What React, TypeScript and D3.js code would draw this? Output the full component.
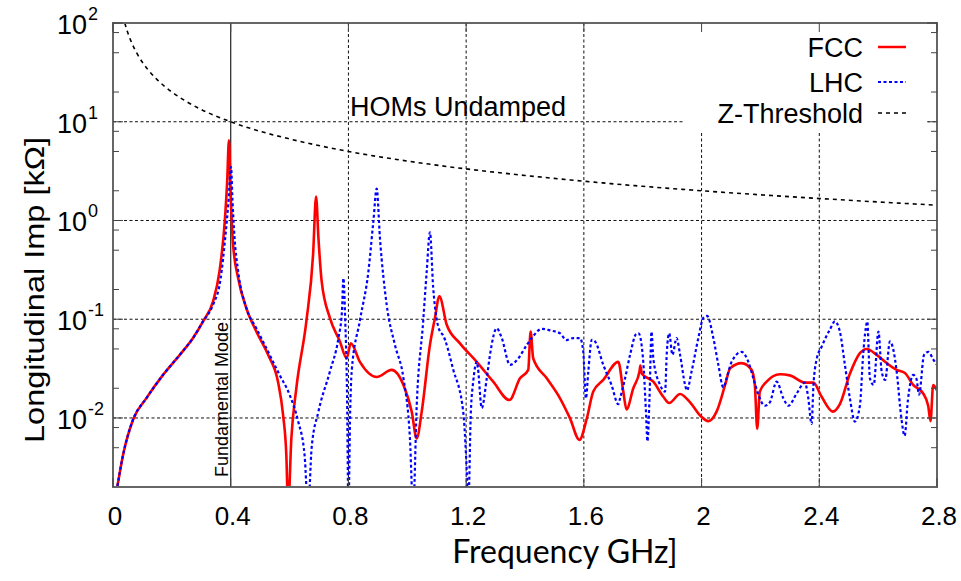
import React from 'react';
import * as d3 from 'd3';

// [frequency GHz, impedance kOhm]
const fccData: [number, number][] = [
  [0.012, 0.0018], [0.034, 0.0042], [0.068, 0.0096], [0.113, 0.0158], [0.17, 0.0273],
  [0.227, 0.0436], [0.272, 0.0645], [0.306, 0.095], [0.34, 0.152], [0.362, 0.307],
  [0.38, 1.0], [0.388, 2.5], [0.394, 6.5], [0.399, 2.16], [0.408, 0.575], [0.425, 0.263],
  [0.453, 0.13], [0.487, 0.075], [0.527, 0.0436], [0.561, 0.023], [0.578, 0.0107],
  [0.589, 0.0042], [0.595, 0.0012], [0.606, 0.0062], [0.623, 0.02], [0.657, 0.095],
  [0.68, 0.457], [0.69, 1.75], [0.698, 0.67], [0.709, 0.243], [0.737, 0.103],
  [0.771, 0.0596], [0.794, 0.0403], [0.808, 0.057], [0.839, 0.037], [0.896, 0.026],
  [0.947, 0.0307], [0.987, 0.0216], [1.015, 0.0116], [1.032, 0.0062], [1.049, 0.0116],
  [1.077, 0.055], [1.094, 0.103], [1.109, 0.171], [1.134, 0.088], [1.179, 0.057],
  [1.236, 0.037], [1.292, 0.0233], [1.347, 0.0152], [1.383, 0.0252], [1.411, 0.0307],
  [1.419, 0.075], [1.428, 0.04], [1.474, 0.0252], [1.519, 0.0158], [1.553, 0.0099],
  [1.585, 0.006], [1.61, 0.0099], [1.632, 0.0185], [1.666, 0.0243], [1.717, 0.037],
  [1.734, 0.0185], [1.745, 0.0122], [1.768, 0.02], [1.789, 0.0295], [1.792, 0.034],
  [1.797, 0.028], [1.836, 0.0233], [1.87, 0.0164], [1.89, 0.0142], [1.927, 0.0175],
  [1.961, 0.0144], [1.995, 0.0106], [2.023, 0.0093], [2.051, 0.0116], [2.08, 0.0216],
  [2.097, 0.0318], [2.136, 0.0359], [2.17, 0.0307], [2.181, 0.0216], [2.189, 0.0078],
  [2.198, 0.0185], [2.221, 0.0233], [2.266, 0.0277], [2.3, 0.027], [2.351, 0.0228],
  [2.38, 0.0228], [2.408, 0.0164], [2.446, 0.0116], [2.47, 0.0138], [2.504, 0.028],
  [2.538, 0.0453], [2.561, 0.05], [2.595, 0.0436], [2.629, 0.036], [2.663, 0.0307],
  [2.691, 0.0285], [2.719, 0.0216], [2.753, 0.0177], [2.77, 0.0133], [2.778, 0.0093],
  [2.787, 0.0216], [2.8, 0.019],
];

const lhcData: [number, number][] = [
  [0.012, 0.0018], [0.034, 0.0042], [0.068, 0.0096], [0.113, 0.0158], [0.17, 0.0273],
  [0.227, 0.0436], [0.272, 0.0645], [0.306, 0.095], [0.34, 0.14], [0.365, 0.25],
  [0.382, 0.7], [0.392, 1.5], [0.401, 3.5], [0.406, 1.6], [0.413, 0.67], [0.425, 0.31],
  [0.453, 0.13], [0.487, 0.081], [0.521, 0.051], [0.566, 0.0273], [0.6, 0.0172],
  [0.629, 0.0093], [0.651, 0.0042], [0.663, 0.0012], [0.675, 0.005], [0.698, 0.0116],
  [0.737, 0.0295], [0.766, 0.0645], [0.778, 0.12], [0.783, 0.26], [0.789, 0.1],
  [0.795, 0.02], [0.8, 0.0012], [0.806, 0.012], [0.811, 0.0295], [0.839, 0.097],
  [0.868, 0.307], [0.885, 1.0], [0.896, 2.1], [0.907, 0.67], [0.93, 0.14], [0.958, 0.055],
  [0.987, 0.0252], [1.009, 0.0062], [1.02, 0.0012], [1.032, 0.0133], [1.054, 0.095],
  [1.066, 0.307], [1.077, 0.76], [1.088, 0.209], [1.111, 0.075], [1.12, 0.07],
  [1.156, 0.031], [1.19, 0.0116], [1.202, 0.0029], [1.207, 0.0012], [1.216, 0.0116],
  [1.224, 0.0233], [1.236, 0.037], [1.24, 0.032], [1.253, 0.0126], [1.27, 0.0252],
  [1.281, 0.0436], [1.304, 0.081], [1.321, 0.0645], [1.349, 0.0345], [1.377, 0.04],
  [1.406, 0.055], [1.423, 0.0645], [1.457, 0.08], [1.485, 0.077], [1.519, 0.072],
  [1.541, 0.0615], [1.564, 0.0645], [1.587, 0.0645], [1.598, 0.0467], [1.607, 0.0158],
  [1.615, 0.0295], [1.627, 0.062], [1.638, 0.0596], [1.666, 0.0345], [1.694, 0.0216],
  [1.717, 0.0138], [1.723, 0.0158], [1.74, 0.0252], [1.757, 0.0436], [1.779, 0.0716],
  [1.786, 0.072], [1.801, 0.04], [1.811, 0.0116], [1.816, 0.0058], [1.823, 0.0158],
  [1.83, 0.075], [1.836, 0.04], [1.859, 0.0216], [1.876, 0.0185], [1.882, 0.0467],
  [1.89, 0.072], [1.901, 0.0436], [1.915, 0.0645], [1.927, 0.0436], [1.944, 0.0216],
  [1.95, 0.019], [1.966, 0.0295], [1.989, 0.0645], [2.006, 0.103], [2.019, 0.108],
  [2.04, 0.0645], [2.057, 0.0345], [2.074, 0.0204], [2.085, 0.0252], [2.102, 0.037],
  [2.136, 0.0467], [2.159, 0.037], [2.176, 0.0252], [2.193, 0.0172], [2.215, 0.0133],
  [2.232, 0.0144], [2.255, 0.0233], [2.278, 0.0158], [2.295, 0.0133], [2.323, 0.0177],
  [2.351, 0.0228], [2.362, 0.0164], [2.374, 0.0087], [2.38, 0.021], [2.391, 0.0393],
  [2.408, 0.0527], [2.436, 0.0785], [2.453, 0.095], [2.47, 0.075], [2.487, 0.0345],
  [2.504, 0.0158], [2.521, 0.0092], [2.538, 0.0133], [2.549, 0.0436], [2.558, 0.081],
  [2.563, 0.095], [2.572, 0.0252], [2.585, 0.0216], [2.601, 0.075], [2.612, 0.0295],
  [2.624, 0.0243], [2.64, 0.0596], [2.651, 0.05], [2.663, 0.0295], [2.679, 0.0099],
  [2.69, 0.0066], [2.701, 0.015], [2.719, 0.0273], [2.73, 0.025], [2.739, 0.0172],
  [2.756, 0.0436], [2.771, 0.0467], [2.787, 0.0393], [2.8, 0.0345],
];

const thresholdData: [number, number][] = [
  [0.04, 100], [0.05, 80], [0.06, 66.7], [0.08, 50], [0.1, 40], [0.12, 33.3], [0.15, 26.7],
  [0.2, 20], [0.25, 16], [0.3, 13.3], [0.4, 10], [0.5, 8], [0.6, 6.7], [0.8, 5], [1.0, 4],
  [1.2, 3.33], [1.4, 2.86], [1.6, 2.5], [1.8, 2.22], [2.0, 2.0], [2.2, 1.82], [2.4, 1.67],
  [2.6, 1.54], [2.8, 1.43],
];

const xTicks = [0, 0.4, 0.8, 1.2, 1.6, 2, 2.4, 2.8];
const yTicks = [0.01, 0.1, 1, 10, 100];
const yTickExp = ['-2', '-1', '0', '1', '2'];
const yMinor = [2, 5, 8];
const legendItems = ['FCC', 'LHC', 'Z-Threshold'];

const gnu = '"Liberation Sans", Arial, sans-serif';
const office = 'Lato, "Open Sans", sans-serif';

export default function App() {
  const W = 961, H = 581;
  const left = 113, right = 937, top = 23, bottom = 487;

  const x = d3.scaleLinear().domain([0, 2.8]).range([left, right]);
  const y = d3.scaleLog().domain([0.002, 100]).range([bottom, top]);

  const line = d3.line<[number, number]>()
    .x(d => x(d[0]))
    .y(d => y(d[1]))
    .curve(d3.curveMonotoneX);

  const minorVals: number[] = [];
  [0.001, 0.01, 0.1, 1, 10].forEach(dec => yMinor.forEach(m => {
    const v = dec * m;
    if (v > 0.002 && v < 100) minorVals.push(v);
  }));

  const grid = { stroke: '#111', strokeWidth: 1, strokeDasharray: '3,2.5' };

  const legX = 863;
  const legY = [47, 82, 113];
  const legStyles = [
    { stroke: '#ff0000', strokeWidth: 2.5, strokeDasharray: 'none' },
    { stroke: '#0000ff', strokeWidth: 2, strokeDasharray: '3,2.5' },
    { stroke: '#000', strokeWidth: 1.5, strokeDasharray: '4,4' },
  ];

  return (
    <svg width={W} height={H} style={{ position: 'absolute', left: 0, top: 0, background: '#fff' }}>
      <defs>
        <clipPath id="plot">
          <rect x={left} y={top} width={right - left} height={bottom - top} />
        </clipPath>
      </defs>

      {/* grid */}
      {xTicks.filter(t => t > 0 && t < 2.8 && t !== 0.4).map(t => (
        <line key={'gx' + t} x1={x(t)} x2={x(t)} y1={top} y2={bottom} {...grid} />
      ))}
      {yTicks.filter(t => t < 100).map(t => (
        <line key={'gy' + t} x1={left} x2={right} y1={y(t)} y2={y(t)} {...grid} />
      ))}

      {/* legend background */}
      <rect x={685} y={top + 1} width={243} height={108} fill="#fff" />

      {/* fundamental mode marker */}
      <line x1={x(0.4)} x2={x(0.4)} y1={top} y2={bottom} stroke="#222" strokeWidth={1.2} />

      <g clipPath="url(#plot)" fill="none">
        <path d={line(thresholdData) || ''} stroke="#000" strokeWidth={1.6} strokeDasharray="4,4" />
        <path d={line(fccData) || ''} stroke="#ff0000" strokeWidth={2.6} strokeLinejoin="round" />
        <path d={line(lhcData) || ''} stroke="#0000ff" strokeWidth={2.2} strokeDasharray="3,2.5" />
      </g>

      {/* frame */}
      <rect x={left} y={top} width={right - left} height={bottom - top} fill="none" stroke="#666" strokeWidth={2} />

      {/* ticks */}
      {minorVals.map(v => (
        <g key={'mt' + v}>
          <line x1={left} x2={left + 6} y1={y(v)} y2={y(v)} stroke="#444" />
          <line x1={right - 6} x2={right} y1={y(v)} y2={y(v)} stroke="#444" />
        </g>
      ))}
      {yTicks.map(t => (
        <g key={'yt' + t}>
          <line x1={left} x2={left + 10} y1={y(t)} y2={y(t)} stroke="#444" />
          <line x1={right - 10} x2={right} y1={y(t)} y2={y(t)} stroke="#444" />
        </g>
      ))}
      {xTicks.map(t => (
        <g key={'xt' + t}>
          <line x1={x(t)} x2={x(t)} y1={top} y2={top + 9} stroke="#444" />
          <line x1={x(t)} x2={x(t)} y1={bottom - 9} y2={bottom} stroke="#444" />
        </g>
      ))}

      {/* tick labels */}
      {xTicks.map(t => (
        <text key={'xl' + t} x={x(t) + 2} y={525} textAnchor="middle" fontFamily={gnu} fontSize={26} fill="#000">
          {String(t)}
        </text>
      ))}
      {yTicks.map((t, i) => (
        <g key={'yl' + t} fontFamily={gnu} fill="#000">
          <text x={57} y={y(t) + 11} fontSize={27}>10</text>
          <text x={88} y={y(t) - 3} fontSize={18}>{yTickExp[i]}</text>
        </g>
      ))}

      {/* annotations */}
      <text x={458} y={116} textAnchor="middle" fontFamily={gnu} fontSize={27}>HOMs Undamped</text>
      <text transform={`translate(${x(0.4) - 3},${bottom - 10}) rotate(-90)`} fontFamily={gnu} fontSize={18}>
        Fundamental Mode
      </text>

      {/* legend */}
      {legendItems.map((name, i) => (
        <g key={name}>
          <text x={legX} y={legY[i] + 10} textAnchor="end" fontFamily={gnu} fontSize={27}>{name}</text>
          <line x1={878} x2={906} y1={legY[i]} y2={legY[i]} {...legStyles[i]} />
        </g>
      ))}

      {/* axis titles */}
      <text transform="translate(44,290) rotate(-90)" textAnchor="middle" fontFamily={gnu} fontSize={27}
        textLength={306} lengthAdjust="spacingAndGlyphs" fill="#000">
        Longitudinal Imp [kΩ]
      </text>
      <text x={565} y={563} textAnchor="middle" fontFamily={office} fontSize={32} fill="#000">
        Frequency GHz]
      </text>
    </svg>
  );
}
